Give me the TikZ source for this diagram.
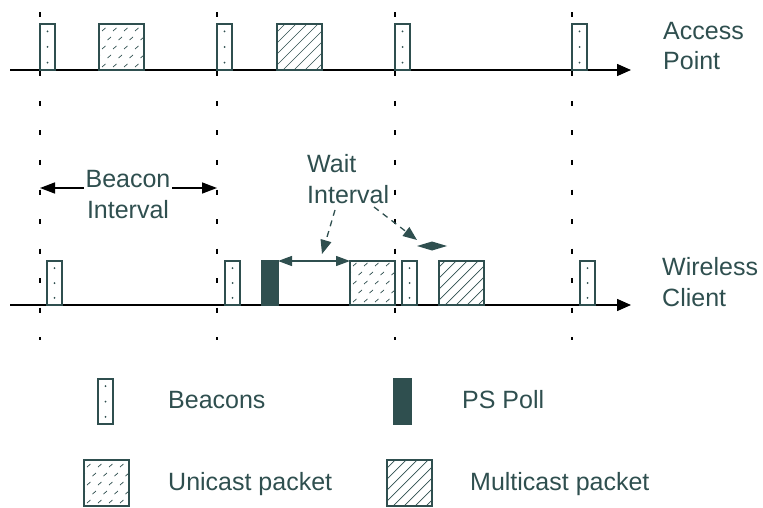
\documentclass[tikz,border=0pt]{standalone}
\usepackage{fontspec}
\setmainfont{Liberation Sans}
\usetikzlibrary{arrows.meta,calc}
\definecolor{tealz}{RGB}{47,79,79}
\begin{document}
\begin{tikzpicture}[x=1pt,y=-1pt,
  lbl/.style={text=tealz, font=\fontsize{25pt}{31pt}\selectfont, inner sep=0pt, align=left, anchor=base west},
  pkt/.style={draw=tealz, line width=1.4pt, fill=white, inner sep=0pt, outer sep=0pt, anchor=south west},
  beaconbox/.style={pkt, minimum width=15pt, minimum height=#1,
    path picture={\foreach \f in {0.16,0.5,0.84}{\fill[tealz] ($(path picture bounding box.south)!\f!(path picture bounding box.north)$) circle (1pt);}}},
  beaconbox/.default=46pt,
  pollbox/.style={pkt, fill=tealz, minimum width=16pt, minimum height=#1},
  pollbox/.default=44pt,
  multibox/.style={pkt, minimum width=45pt, minimum height=#1,
    path picture={\foreach \k in {-6,...,4}{\draw[tealz, line width=0.7pt] ([xshift=\k*11pt+6pt]path picture bounding box.south west) -- ++(60pt,60pt);}}},
  multibox/.default=46pt,
  unibox/.style={pkt, minimum width=45pt, minimum height=#1,
    path picture={\foreach \i in {0,...,7}{\foreach \j in {0,...,5}{\draw[tealz, line width=0.7pt] ([xshift=\i*11pt-\j*5.5pt+3pt, yshift=\j*9pt+3pt]path picture bounding box.south west) -- ++(3.5pt,3pt);}}}},
  unibox/.default=46pt,
  axisline/.style={draw=black, line width=1.5pt, -{Triangle[length=14pt,width=12pt]}},
  vdash/.style={draw=black, line width=1.6pt, dash pattern=on 5pt off 24.5pt},
  dimarrow/.style={draw=black, line width=1.5pt, {Triangle[length=15pt,width=11pt]}-{Triangle[length=15pt,width=11pt]}},
  waitarrow/.style={draw=tealz, line width=1.3pt, {Triangle[length=14pt,width=10pt]}-{Triangle[length=14pt,width=10pt]}},
  pointer/.style={draw=tealz, line width=1.3pt, dash pattern=on 6pt off 5pt, -{Triangle[length=14pt,width=11pt]}}
]
\useasboundingbox (0,0) rectangle (763,508);

% vertical dashed guides
\foreach \x [count=\n] in {40,217,395,572}{
  \coordinate (v\n t) at (\x,12.5);
  \coordinate (v\n b) at (\x,340);
  \draw[vdash] (v\n t) -- (v\n b);
}

% axes
\coordinate (a1s) at (10,70);
\coordinate (a1e) at (631,70);
\coordinate (a2s) at (10,305);
\coordinate (a2e) at (631,305);
\draw[axisline] (a1s) -- (a1e);
\draw[axisline] (a2s) -- (a2e);

% Access point packets
\node[beaconbox] (tb1) at (40,70) {};
\node[unibox] (tu1) at (99,70) {};
\node[beaconbox] (tb2) at (217,70) {};
\node[multibox] (tm1) at (277,70) {};
\node[beaconbox] (tb3) at (395,70) {};
\node[beaconbox] (tb4) at (572,70) {};

% Wireless client packets
\node[beaconbox=44pt] (bb1) at (47,305) {};
\node[beaconbox=44pt] (bb2) at (225,305) {};
\node[pollbox] (bp1) at (262,305) {};
\node[unibox=44pt] (bu1) at (350,305) {};
\node[beaconbox=44pt] (bb3) at (402,305) {};
\node[multibox=44pt] (bm1) at (439,305) {};
\node[beaconbox=44pt] (bb4) at (580,305) {};

% labels (base = last line's baseline)
\node[lbl, font=\fontsize{25pt}{30pt}\selectfont] (ap) at (663,70) {Access\\Point};
\node[lbl] (wc) at (662,306) {Wireless\\Client};

% beacon interval
\coordinate (bi1) at (40,188);
\coordinate (bi2) at (217,188);
\draw[dimarrow] (bi1) -- (bi2);
\node[lbl, align=center, anchor=base, fill=white, inner xsep=2pt, inner ysep=1pt] (bil) at (128,218) {Beacon\\Interval};

% wait interval
\draw[waitarrow] (bp1.north east) -- (bu1.north west);
\node[lbl] (wil) at (307,203) {Wait\\Interval};
\coordinate (w1s) at (335,210);
\coordinate (w1e) at (322,254);
\coordinate (w2s) at (374,207);
\coordinate (w2e) at (417,240);
\draw[pointer] (w1s) -- (w1e);
\draw[pointer] (w2s) -- (w2e);
\fill[tealz] (417,246) -- (432,241.5) -- (447,246) -- (432,250.5) -- cycle;

% legend
\node[beaconbox=45pt] (lb) at (98,424) {};
\node[lbl] (lbt) at (168,408) {Beacons};
\node[pollbox=45pt, minimum width=17pt] (lp) at (394,424) {};
\node[lbl] (lpt) at (462,408) {PS Poll};
\node[unibox] (lu) at (84,506) {};
\node[lbl] (lut) at (168,490) {Unicast packet};
\node[multibox] (lm) at (387,506) {};
\node[lbl] (lmt) at (470,490) {Multicast packet};
\end{tikzpicture}
\end{document}
